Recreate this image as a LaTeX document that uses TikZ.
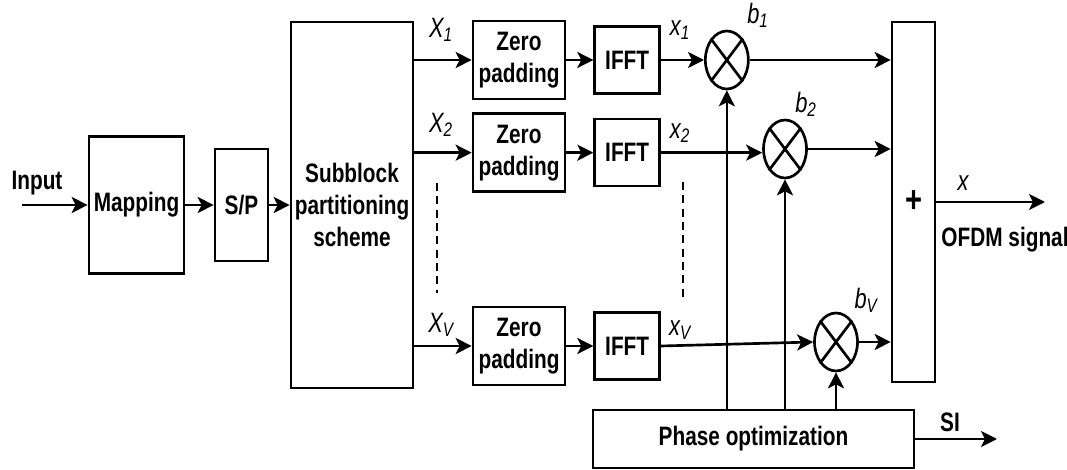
\documentclass[tikz,border=0pt]{standalone}
\usepackage{fontspec}
\setmainfont{Liberation Sans}[FakeStretch=0.78]
\usepackage{tikz}
\usetikzlibrary{positioning,arrows.meta,shapes.geometric,calc}

\begin{document}
\begin{tikzpicture}[
        x=0.75pt, y=-0.75pt,
        block/.style={draw, line width=2pt, font=\fontsize{20}{24}\selectfont\bfseries, align=center, inner sep=0pt},
        mult/.style={draw, ellipse, line width=2pt, minimum width=32.25pt, minimum height=43.5pt, inner sep=0pt},
        arrow/.style={-{Stealth[length=12pt,width=12pt,inset=3pt]}, line width=2pt},
        wire/.style={line width=2pt},
        sig/.style={font=\fontsize{21}{23}\selectfont\itshape, inner sep=1pt},
        lbl/.style={font=\fontsize{20}{24}\selectfont\bfseries, inner sep=1pt},
        dots/.style={line width=2pt, dash pattern=on 6pt off 4pt}
    ]
    \useasboundingbox (0,0) rectangle (1067,470);

    % input side
    \coordinate (in) at (22,205);
    \node[lbl] (inlbl) at (37,183) {Input};
    \node[block, minimum width=71.25pt, minimum height=102.75pt] (map) at (136.5,205) {Mapping};
    \node[block, minimum width=39.75pt, minimum height=84pt] (sp) at (241.5,205) {S/P};
    \node[block, minimum width=91.5pt, minimum height=274.5pt] (sub) at (352,205) {Subblock\\partitioning\\scheme};

    % subblock branches
    \node[block, minimum width=69pt, minimum height=58.5pt] (zp1) at (519,60) {Zero\\padding};
    \node[block, minimum width=48.75pt, minimum height=50.25pt, right=20.25pt of zp1] (ifft1) {IFFT};
    \node[block, minimum width=69pt, minimum height=58.5pt, below=9pt of zp1] (zp2) {Zero\\padding};
    \node[block, minimum width=48.75pt, minimum height=50.25pt, right=20.25pt of zp2] (ifft2) {IFFT};
    \node[block, minimum width=69pt, minimum height=58.5pt] (zpV) at (519,346) {Zero\\padding};
    \node[block, minimum width=48.75pt, minimum height=50.25pt, right=20.25pt of zpV] (ifftV) {IFFT};

    % multipliers
    \node[mult, right=32.25pt of ifft1] (m1) {};
    \node[mult] (m2) at (785,149) {};
    \node[mult] (mV) at (836,342) {};
    \foreach \m in {m1,m2,mV}
        \draw[wire] (\m.north west) -- (\m.south east) (\m.north east) -- (\m.south west);

    % adder and phase optimization
    \node[block, minimum width=32.25pt, minimum height=270pt, font=\fontsize{28}{30}\selectfont\bfseries] (sum) at (913.5,202) {+};
    \node[block, minimum width=240.75pt, minimum height=43.5pt] (phase) at (753.5,439) {Phase optimization};
    \coordinate (out) at (1045,202);
    \coordinate (si) at (997,439);

    % signal labels
    \node[sig] (X1) at (441,30) {X\textsubscript{1}};
    \node[sig] (X2) at (441,125) {X\textsubscript{2}};
    \node[sig] (XV) at (441,325) {X\textsubscript{V}};
    \node[sig] (x1) at (680,30) {x\textsubscript{1}};
    \node[sig] (x2) at (680,133) {x\textsubscript{2}};
    \node[sig] (xV) at (680,330) {x\textsubscript{V}};
    \node[sig] (b1) at (758,15) {b\textsubscript{1}};
    \node[sig] (b2) at (806,104) {b\textsubscript{2}};
    \node[sig] (bV) at (866,300) {b\textsubscript{V}};
    \node[sig] (xout) at (963,183) {x};
    \node[lbl] (ofdm) at (1005,240) {OFDM signal};
    \node[lbl] (silbl) at (950,422) {SI};

    % dots between branches
    \coordinate (d1a) at (437,183);
    \coordinate (d1b) at (437,293);
    \coordinate (d2a) at (683,182);
    \coordinate (d2b) at (683,298);
    \draw[dots] (d1a) -- (d1b);
    \draw[dots] (d2a) -- (d2b);

    % connections
    \draw[arrow] (in) -- (map);
    \draw[arrow] (map) -- (sp);
    \draw[arrow] (sp) -- (sub);
    \draw[arrow] (sub.east |- zp1) -- (zp1);
    \draw[arrow] (sub.east |- zp2) -- (zp2);
    \draw[arrow] (sub.east |- zpV) -- (zpV);
    \draw[arrow] (zp1) -- (ifft1);
    \draw[arrow] (zp2) -- (ifft2);
    \draw[arrow] (zpV) -- (ifftV);
    \draw[arrow] (ifft1) -- (m1);
    \draw[arrow] (ifft2.east) -- (ifft2.east -| m2.west);
    \draw[arrow] (ifftV.east) -- (mV.west);
    \draw[arrow] (m1.east) -- (m1.east -| sum.west);
    \draw[arrow] (m2.east) -- (m2.east -| sum.west);
    \draw[arrow] (mV.east) -- (mV.east -| sum.west);
    \draw[arrow] (phase.north -| m1) -- (m1.south);
    \draw[arrow] (phase.north -| m2) -- (m2.south);
    \draw[arrow] (phase.north -| mV) -- (mV.south);
    \draw[arrow] (sum.east |- out) -- (out);
    \draw[arrow] (phase.east) -- (si);

\end{tikzpicture}
\end{document}
